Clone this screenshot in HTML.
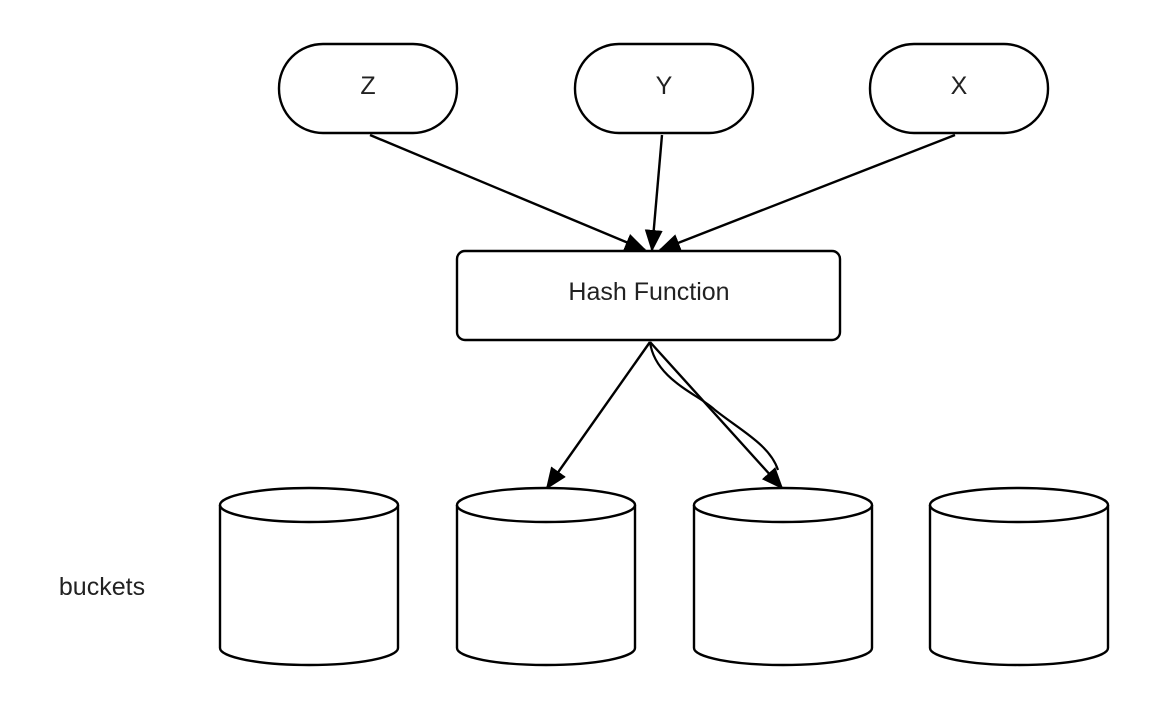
<!DOCTYPE html><html><head><style>body{margin:0;background:#fff}</style></head><body>
<svg width="1158" height="702" xmlns="http://www.w3.org/2000/svg" font-family="Liberation Sans, sans-serif">
<defs>
<marker id="b" markerWidth="22" markerHeight="18" refX="20" refY="9" orient="auto" markerUnits="userSpaceOnUse"><path d="M0,0 L22,9 L0,18z" fill="#000"/></marker></defs>
<g fill="#fff" stroke="#000" stroke-width="2.4">
<rect x="279" y="44" width="178" height="89" rx="44"/>
<rect x="575" y="44" width="178" height="89" rx="44"/>
<rect x="870" y="44" width="178" height="89" rx="44"/>
<rect x="457" y="251" width="383" height="89" rx="8"/>
</g>
<g font-size="25" text-anchor="middle" fill="#222">
<text x="368" y="94">Z</text><text x="664" y="94">Y</text><text x="959" y="94">X</text>
<text x="649" y="300">Hash Function</text>
<text x="102" y="595">buckets</text>
</g>
<g stroke="#000" stroke-width="2.4" fill="none" marker-end="url(#b)">
<line x1="370" y1="135" x2="645" y2="250"/>
<line x1="662" y1="135" x2="652" y2="250"/>
<line x1="955" y1="135" x2="660" y2="250"/>
<line x1="650" y1="342" x2="547" y2="488"/>
<line x1="650" y1="342" x2="782" y2="488"/>
</g>
<path d="M650,342 C655,380 700,395 715,410 C740,430 770,445 778,470" stroke="#000" stroke-width="2.2" fill="none"/>
<g fill="#fff" stroke="#000" stroke-width="2.4">
<g id="c"><path d="M220,505 L220,648 A89,17 0 0 0 398,648 L398,505"/><ellipse cx="309" cy="505" rx="89" ry="17"/></g>
<use href="#c" x="237"/><use href="#c" x="474"/><use href="#c" x="710"/>
</g>
</svg></body></html>
